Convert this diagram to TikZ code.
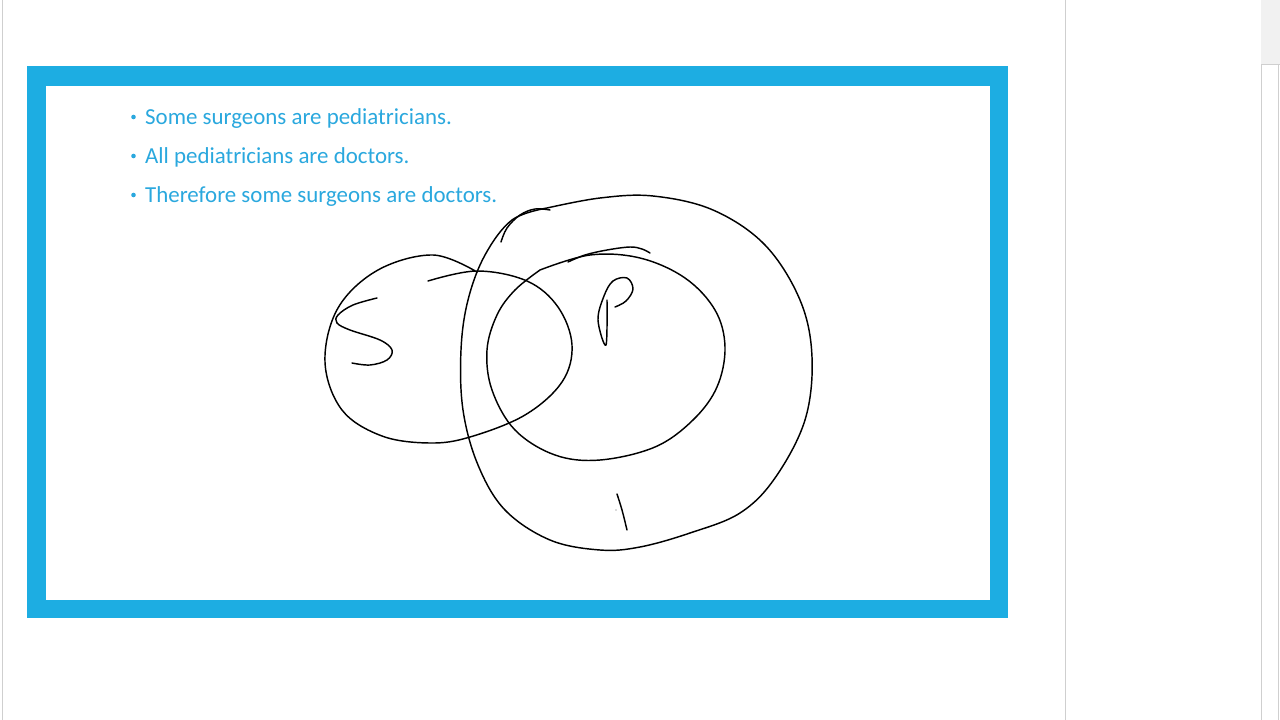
\documentclass[tikz,border=0pt]{standalone}
\usepackage{fontspec}
\setmainfont{Carlito}
\definecolor{frameblue}{HTML}{1DADE2}
\definecolor{textblue}{HTML}{2AA8DE}
\definecolor{uigrey}{HTML}{CFCFCF}
\definecolor{uifill}{HTML}{F1F1F1}
\begin{document}
\begin{tikzpicture}[x=1pt,y=-1pt,
  ink/.style={line width=1.45pt,line cap=round,line join=round,black},
  bullettext/.style={anchor=base west,inner sep=0pt,text=textblue,font=\fontsize{22.9}{26}\selectfont},
  bulletdot/.style={circle,fill=textblue,inner sep=0pt,minimum size=4.6pt},
  uiline/.style={draw=uigrey,line width=1pt}]
\useasboundingbox (0,0) rectangle (1280,720);
\fill[white] (0,0) rectangle (1280,720);
% window chrome
\draw[uiline] (2,0) -- (2,720);
\draw[uiline] (1065,0) -- (1065,720);
\fill[uifill] (1261,0) rectangle (1280,64);
\draw[uiline] (1261,64) -- (1261,720);
\draw[uiline] (1261,64) -- (1280,64);
\draw[uiline] (1278,64) -- (1278,720);
% slide frame
\fill[frameblue] (27,66) rectangle (1008,618);
\fill[white] (46,86) rectangle (990,600);
% bullets
\node[bulletdot] (d1) at (133.5,117) {};
\node[bulletdot] (d2) at (133.5,156) {};
\node[bulletdot] (d3) at (133.5,195) {};
\node[bullettext] (b1) at (145,124) {Some surgeons are pediatricians.};
\node[bullettext] (b2) at (145,163) {All pediatricians are doctors.};
\node[bullettext] (b3) at (145,202) {Therefore some surgeons are doctors.};
% S circle
\draw[ink] plot[smooth,tension=0.6] coordinates {(428,281) (477,271) (527,281) (558,307) (572,345) (562,382) (525,415) (470,437) (430,443) (382,436) (342,410) (325,362) (338,308) (378,270) (433,255) (477,272)};
% big D circle
\draw[ink] plot[smooth,tension=0.6] coordinates {(547,208) (600,198) (653,196) (713,210) (765,245) (800,300) (812,357) (805,420) (775,478) (740,513) (690,533) (640,547) (600,550) (550,540) (505,510) (478,465) (463,410) (461,350) (468,300) (485,255) (512,220) (547,208)};
\draw[ink] plot[smooth,tension=0.6] coordinates {(501,242) (507,228) (520,215) (535,209) (550,210)};
% P circle
\draw[ink] plot[smooth,tension=0.6] coordinates {(540,270) (590,255) (640,258) (685,278) (715,310) (725,347) (717,387) (693,420) (655,447) (600,460) (555,455) (515,430) (492,390) (487,350) (497,315) (515,290) (540,270)};
\draw[ink] plot[smooth,tension=0.6] coordinates {(568,262) (585,255) (607,250) (630,247) (642,249) (650,253)};
% letter S
\draw[ink] plot[smooth,tension=0.6] coordinates {(377,298) (353,305) (338,315) (337,323) (350,330) (380,340) (392,350) (387,360) (370,365) (352,363)};
% letter P
\draw[ink] plot[smooth,tension=0.6] coordinates {(607,300) (606,345) (598,320) (604,296) (613,281) (627,278) (633,289) (626,301) (615,307)};
% mark at bottom
\draw[ink] plot[smooth,tension=0.6] coordinates {(617,494) (622,510) (627,530)};
\fill[black!60] (616,510) circle (0.7pt);
\end{tikzpicture}
\end{document}
